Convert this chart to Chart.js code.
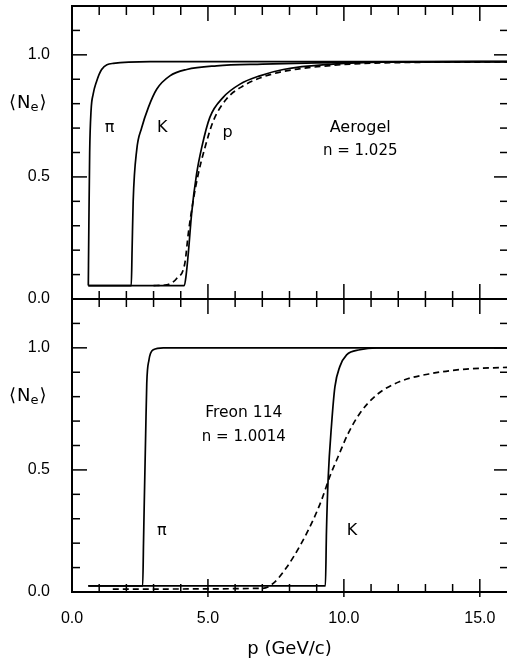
<!DOCTYPE html>
<html>
<head>
<meta charset="utf-8">
<script src="https://cdn.jsdelivr.net/npm/chart.js@4"></script>
<style>
  html, body { margin: 0; padding: 0; background: #fff; }
</style>
</head>
<body>
<canvas id="chart" width="507" height="665"></canvas>
<script>
// top panel: aerogel, n = 1.025  (x = p in GeV/c, y = <Ne>)
const aeroPi = [[0.6,0.055],[0.62,0.3],[0.65,0.6],[0.7,0.77],[0.78,0.84],[0.9,0.89],[1.09,0.94],[1.52,0.965],[2.87,0.972],[16,0.972]];
const aeroK = [[0.6,0.055],[2.18,0.055],[2.21,0.2],[2.25,0.4],[2.38,0.61],[2.56,0.7],[2.81,0.785],[3.12,0.86],[3.6,0.914],[4.22,0.94],[5.32,0.955],[7,0.962],[9,0.967],[11.5,0.971],[16,0.972]];
const aeroP = [[0.6,0.055],[4.13,0.055],[4.2,0.1],[4.28,0.19],[4.4,0.35],[4.58,0.51],[4.77,0.62],[5.07,0.744],[5.56,0.826],[6.18,0.88],[6.91,0.914],[7.77,0.94],[9.6,0.962],[11.4,0.97],[16,0.972]];
const aeroPDash = [[3.0,0.055],[3.48,0.058],[3.85,0.084],[4.15,0.146],[4.28,0.27],[4.46,0.404],[4.64,0.51],[4.89,0.62],[5.2,0.73],[5.69,0.82],[6.3,0.873],[6.91,0.905],[7.77,0.932],[9.6,0.957],[11.4,0.967],[16,0.971]];

// bottom panel: freon 114, n = 1.0014
const freonPi = [[0.6,0.025],[2.6,0.025],[2.63,0.2],[2.66,0.377],[2.71,0.65],[2.75,0.855],[2.83,0.95],[2.99,0.992],[3.36,1.0],[16,1.0]];
const freonK = [[0.6,0.025],[9.32,0.025],[9.36,0.25],[9.42,0.46],[9.55,0.69],[9.67,0.84],[9.85,0.923],[10.1,0.971],[10.59,0.992],[11.2,1.0],[16,1.0]];
const freonKDash = [[1.5,0.012],[7.0,0.015],[7.4,0.035],[7.89,0.1],[8.44,0.2],[8.87,0.295],[9.18,0.377],[9.49,0.475],[9.79,0.555],[10.16,0.65],[10.59,0.732],[11.2,0.807],[12.06,0.862],[13.28,0.896],[14.5,0.913],[16,0.92]];

const xTickValues = [1,2,3,4,5,6,7,8,9,10,11,12,13,14,15];
const yTickValues = [0.1,0.2,0.3,0.4,0.5,0.6,0.7,0.8,0.9,1.0,1.1];

function pts(arr) {
  return arr.map(p => ({x: p[0], y: p[1]}));
}

function curve(arr, axis, dashed) {
  return {
    data: pts(arr),
    yAxisID: axis,
    borderColor: '#000',
    borderWidth: 1.7,
    borderDash: dashed ? [6, 4] : [],
    pointRadius: 0,
    cubicInterpolationMode: 'monotone',
    fill: false
  };
}

const numFont = {family: 'Liberation Sans', size: 16};

function noPad(s) {
  s.paddingTop = 0; s.paddingBottom = 0; s.paddingLeft = 0; s.paddingRight = 0;
}

function yScale() {
  return {
    type: 'linear',
    position: 'left',
    stack: 'panels',
    stackWeight: 1,
    min: 0,
    max: 1.2,
    grid: {display: false},
    border: {display: false},
    ticks: {
      stepSize: 0.5,
      includeBounds: false,
      padding: 14,
      color: '#000',
      font: numFont,
      callback: v => v.toFixed(1)
    },
    afterFit: s => { s.width = 72; noPad(s); }
  };
}

// frame, inward ticks and in-plot labels
const framePlugin = {
  id: 'frame',
  afterDatasetsDraw(chart) {
    const ctx = chart.ctx;
    const xs = chart.scales.x, yt = chart.scales.yTop, yb = chart.scales.yBot;
    const L = xs.left, R = xs.right;
    const top = yt.getPixelForValue(1.2), mid = yt.getPixelForValue(0), bot = yb.getPixelForValue(0);
    function line(x1, y1, x2, y2) {
      ctx.beginPath(); ctx.moveTo(x1, y1); ctx.lineTo(x2, y2); ctx.stroke();
    }
    ctx.save();
    ctx.strokeStyle = '#000';
    ctx.lineWidth = 2;
    line(L, top, R, top);
    line(L, mid, R, mid);
    line(L, bot, R, bot);
    line(L, top - 1, L, bot + 1);

    ctx.lineWidth = 1.5;
    xTickValues.forEach(v => {
      const px = xs.getPixelForValue(v);
      const major = v % 5 === 0;
      line(px, top, px, top + (major ? 15 : 9));
      line(px, mid - (major ? 15 : 8), px, mid + (major ? 15 : 8));
      line(px, bot - (major ? 13 : 8), px, bot + (major ? 5 : 0));
    });
    yTickValues.forEach(v => {
      const major = Math.abs(v * 2 - Math.round(v * 2)) < 1e-6;
      [yt, yb].forEach(s => {
        const py = s.getPixelForValue(v);
        line(L, py, L + (major ? 15 : 8), py);
        line(R, py, R - (major ? 13 : 7), py);
      });
    });

    ctx.fillStyle = '#000';
    ctx.textAlign = 'center';
    ctx.textBaseline = 'middle';
    function text(str, x, y, s, size) {
      ctx.font = size + 'px "DejaVu Sans"';
      ctx.fillText(str, xs.getPixelForValue(x), s.getPixelForValue(y));
    }
    text('\u03c0', 1.38, 0.70, yt, 16);
    text('K', 3.32, 0.70, yt, 16);
    text('p', 5.72, 0.68, yt, 16);
    text('Aerogel', 10.6, 0.70, yt, 16);
    text('n = 1.025', 10.6, 0.605, yt, 15);
    text('Freon 114', 6.32, 0.733, yb, 15.5);
    text('n = 1.0014', 6.32, 0.635, yb, 15);
    text('\u03c0', 3.3, 0.25, yb, 16);
    text('K', 10.3, 0.25, yb, 16);

    // y axis title <Ne> in both panels
    [yt, yb].forEach(s => {
      const cy = s.getPixelForValue(0.8);
      ctx.textAlign = 'left';
      ctx.font = '18px "DejaVu Sans"';
      let x = 9;
      ctx.fillText('\u27e8', x, cy);
      x += ctx.measureText('\u27e8').width + 1;
      ctx.fillText('N', x, cy);
      x += ctx.measureText('N').width;
      ctx.font = '13px "DejaVu Sans"';
      ctx.fillText('e', x, cy + 4);
      x += ctx.measureText('e').width + 1;
      ctx.font = '18px "DejaVu Sans"';
      ctx.fillText('\u27e9', x, cy);
    });
    ctx.restore();
  }
};

new Chart(document.getElementById('chart'), {
  type: 'line',
  data: {
    datasets: [
      curve(aeroPi, 'yTop', false),
      curve(aeroK, 'yTop', false),
      curve(aeroP, 'yTop', false),
      curve(aeroPDash, 'yTop', true),
      curve(freonPi, 'yBot', false),
      curve(freonK, 'yBot', false),
      curve(freonKDash, 'yBot', true)
    ]
  },
  options: {
    responsive: false,
    animation: false,
    devicePixelRatio: 1,
    layout: {padding: {top: 6, right: 0, left: 0, bottom: 0}},
    plugins: {legend: {display: false}, tooltip: {enabled: false}},
    scales: {
      x: {
        type: 'linear',
        min: 0,
        max: 16,
        grid: {display: false},
        border: {display: false},
        ticks: {
          stepSize: 5,
          includeBounds: false,
          padding: 9,
          maxRotation: 0,
          color: '#000',
          font: numFont,
          callback: v => v.toFixed(1)
        },
        title: {
          display: true,
          text: 'p (GeV/c)',
          color: '#000',
          font: {family: 'DejaVu Sans', size: 18},
          padding: {top: 0, bottom: 5}
        },
        afterFit: s => { s.height = 73; noPad(s); }
      },
      // the stack is laid out bottom-up, so the lower panel comes first
      yBot: yScale(),
      yTop: yScale()
    }
  },
  plugins: [framePlugin]
});
</script>
</body>
</html>
